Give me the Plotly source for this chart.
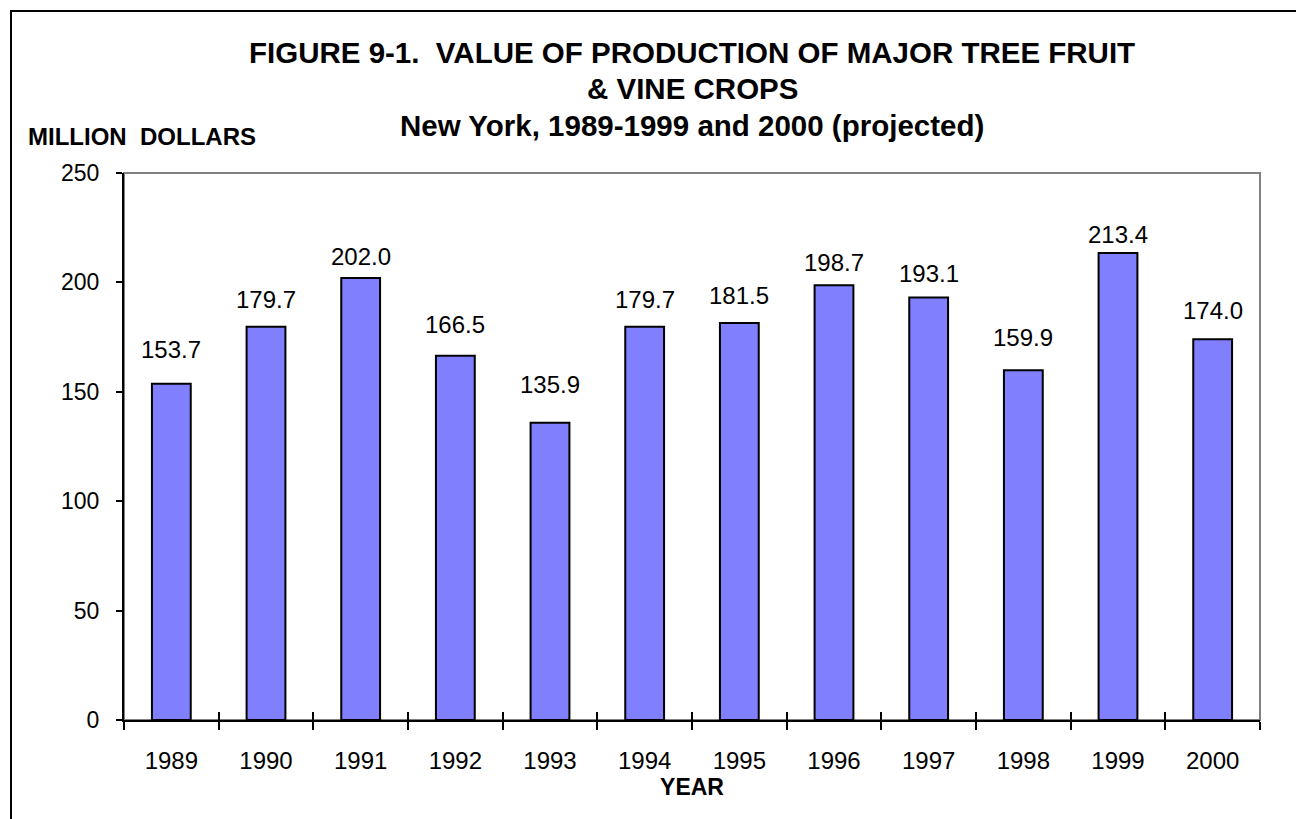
import plotly.graph_objects as go

years = ["1989", "1990", "1991", "1992", "1993", "1994", "1995", "1996", "1997", "1998", "1999", "2000"]
values = [153.7, 179.7, 202.0, 166.5, 135.9, 179.7, 181.5, 198.7, 193.1, 159.9, 213.4, 174.0]
y_ticks = [0, 50, 100, 150, 200, 250]
title_lines = [
    "FIGURE 9-1.\u00a0\u00a0VALUE OF PRODUCTION OF MAJOR TREE FRUIT",
    "& VINE CROPS",
    "New York, 1989-1999 and 2000 (projected)",
]

FONT = "Arial, 'Liberation Sans', sans-serif"
# page body has an 8px margin, so the figure is drawn 8px smaller and offset
W, H = 1296, 811
L, R, T, B = 116, 44, 165, 99
pw, ph = W - L - R, H - T - B


def py(px):
    """figure pixel row -> paper y"""
    return (H - B - px) / ph


def pxx(px):
    return (px - L) / pw


fig = go.Figure()
fig.add_trace(go.Bar(
    x=years, y=values, width=0.41,
    marker=dict(color="#8080FF", line=dict(color="black", width=2)),
    hoverinfo="x+y", showlegend=False,
))
fig.add_trace(go.Scatter(x=[None], y=[None], xaxis="x2", yaxis="y", showlegend=False,
                         hoverinfo="skip"))

vmax = max(values)
annotations = []
for i, v in enumerate(values):
    annotations.append(dict(
        x=i, y=v, xref="x2", yref="y", text=f"{v:.1f}", showarrow=False,
        xanchor="center", yanchor="middle", yshift=19 + 0.25 * (vmax - v),
        font=dict(family=FONT, size=24, color="black"),
    ))
# title lines (bottom of each text box)
for line, bottom in zip(title_lines, [63, 99, 136]):
    annotations.append(dict(
        x=0.5, y=py(bottom), xref="paper", yref="paper", xanchor="center", yanchor="bottom",
        text=f"<b>{line}</b>", showarrow=False,
        font=dict(family=FONT, size=29.5, color="black"),
    ))
annotations.append(dict(
    x=pxx(18), y=py(128), xref="paper", yref="paper",
    xanchor="left", yanchor="middle", showarrow=False,
    text="<b>MILLION\u00a0\u00a0DOLLARS</b>",
    font=dict(family=FONT, size=24, color="black"),
))

fig.update_layout(
    width=W, height=H,
    margin=dict(l=L, r=R, t=T, b=B),
    paper_bgcolor="white", plot_bgcolor="white",
    xaxis=dict(
        type="category", tickson="boundaries", ticks="outside", ticklen=8,
        tickwidth=2, tickcolor="black", showline=True, linecolor="black", linewidth=2,
        showgrid=False, zeroline=False, ticklabelstandoff=18,
        tickfont=dict(family=FONT, size=24, color="black"),
        title=dict(text="<b>YEAR</b>", font=dict(family=FONT, size=23, color="black"), standoff=2),
        range=[-0.5, 11.5],
    ),
    xaxis2=dict(
        overlaying="x", anchor="y", side="bottom", range=[-0.5, 11.5],
        tickvals=[i - 0.5 for i in range(len(years) + 1)], ticks="inside", ticklen=8,
        tickwidth=2, tickcolor="black", showticklabels=False, showgrid=False,
        zeroline=False, showline=False,
    ),
    yaxis=dict(
        range=[0, 250], tickvals=y_ticks, ticks="outside", ticklen=6, tickwidth=2,
        tickcolor="black", showline=True, linecolor="black", linewidth=2,
        showgrid=False, zeroline=False, ticklabelstandoff=12,
        tickfont=dict(family=FONT, size=23, color="black"),
    ),
    annotations=annotations,
    shapes=[
        dict(type="rect", xref="paper", yref="paper", x0=0, x1=1, y0=0, y1=1,
             line=dict(color="#808080", width=2), layer="below"),
        dict(type="rect", xref="paper", yref="paper",
             x0=pxx(3), x1=pxx(W + 20), y0=py(H + 20), y1=py(3),
             line=dict(color="black", width=2), layer="below"),
    ],
)

fig.write_html("out.html")
